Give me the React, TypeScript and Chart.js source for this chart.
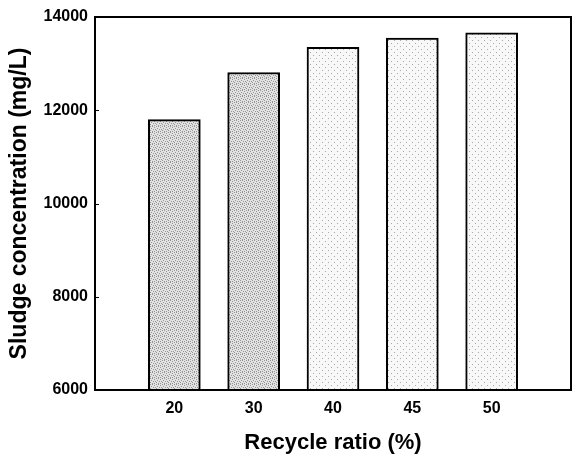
import React, { useEffect, useRef } from "react";
import { Chart, registerables } from "chart.js";

Chart.register(...registerables);

const categories = ["", "20", "30", "40", "45", "50", ""];
const sludgeValues = [null, 11800, 12810, 13350, 13550, 13660, null];
const yTicks = [6000, 8000, 10000, 12000, 14000];

function makePattern(base: string, dot: string, dense: boolean): CanvasPattern | string {
  const c = document.createElement("canvas");
  c.width = 6;
  c.height = 6;
  const g = c.getContext("2d");
  if (!g) return base;
  g.fillStyle = base;
  g.fillRect(0, 0, 6, 6);
  g.fillStyle = dot;
  const pts = dense
    ? [[0, 0], [2, 0], [4, 1], [1, 2], [3, 3], [5, 3], [0, 4], [2, 5], [4, 5]]
    : [[1, 1], [4, 4]];
  pts.forEach(([x, y]) => g.fillRect(x, y, 1, 1));
  const p = g.createPattern(c, "repeat");
  return p || base;
}

export default function App() {
  const ref = useRef<HTMLCanvasElement | null>(null);
  useEffect(() => {
    document.body.style.margin = "0";
    if (!ref.current) return;
    const dark = makePattern("#e2e2e2", "#949494", true);
    const light = makePattern("#f8f8f8", "#a8a8a8", false);
    const colors = [null, dark, dark, light, light, light, null];

    const boxPlugin = {
      id: "boxPlugin",
      afterDraw(chart: any) {
        const { ctx, chartArea } = chart;
        ctx.save();
        ctx.strokeStyle = "#000";
        ctx.lineWidth = 2;
        ctx.strokeRect(chartArea.left, chartArea.top, chartArea.right - chartArea.left, chartArea.bottom - chartArea.top);
        const y = chart.scales.y;
        ctx.lineWidth = 1;
        yTicks.forEach((v) => {
          const py = Math.round(y.getPixelForValue(v)) + 0.5;
          ctx.beginPath();
          ctx.moveTo(chartArea.left, py);
          ctx.lineTo(chartArea.left + 4, py);
          ctx.stroke();
        });
        ctx.restore();
      },
    };

    const chart = new Chart(ref.current, {
      type: "bar",
      data: {
        labels: categories,
        datasets: [
          {
            data: sludgeValues as any,
            backgroundColor: colors as any,
            borderColor: "#000",
            borderWidth: 2,
            barThickness: 52,
          },
        ],
      },
      options: {
        animation: false,
        responsive: false,
        layout: { padding: { top: 17, right: 2, left: 0, bottom: 0 } },
        plugins: { legend: { display: false }, tooltip: { enabled: false } },
        scales: {
          x: {
            offset: false,
            grid: { display: false, drawTicks: false },
            border: { display: true, color: "#000", width: 2 },
            ticks: {
              padding: 9,
              color: "#000",
              font: { family: "Liberation Sans, Arial, sans-serif", size: 16, weight: "bold" },
              maxRotation: 0,
              autoSkip: false,
            },
            title: {
              display: true,
              text: "Recycle ratio (%)",
              color: "#000",
              font: { family: "Liberation Sans, Arial, sans-serif", size: 22, weight: "bold" },
              padding: { top: 0, bottom: 0 },
            },
            afterFit: (s: any) => {
              s.height = 66;
              s.paddingRight = 0;
              s.paddingLeft = 0;
            },
          },
          y: {
            min: 6000,
            max: 14000,
            grid: { display: false, drawTicks: false },
            border: { display: true, color: "#000", width: 2 },
            ticks: {
              stepSize: 2000,
              padding: 7,
              color: "#000",
              font: { family: "Liberation Sans, Arial, sans-serif", size: 16, weight: "bold" },
              callback: (v: any) => String(v),
            },
            title: {
              display: true,
              text: "Sludge concentration (mg/L)",
              color: "#000",
              font: { family: "Liberation Sans, Arial, sans-serif", size: 23, weight: "bold" },
              padding: { top: 6, bottom: 0 },
            },
            afterFit: (s: any) => {
              s.width = 95;
            },
          },
        },
      },
      plugins: [boxPlugin],
    });
    return () => chart.destroy();
  }, []);
  return (
    <div style={{ position: "absolute", left: 0, top: 0, width: 573, height: 456, background: "#fff" }}>
      <canvas ref={ref} width={573} height={456} />
    </div>
  );
}
